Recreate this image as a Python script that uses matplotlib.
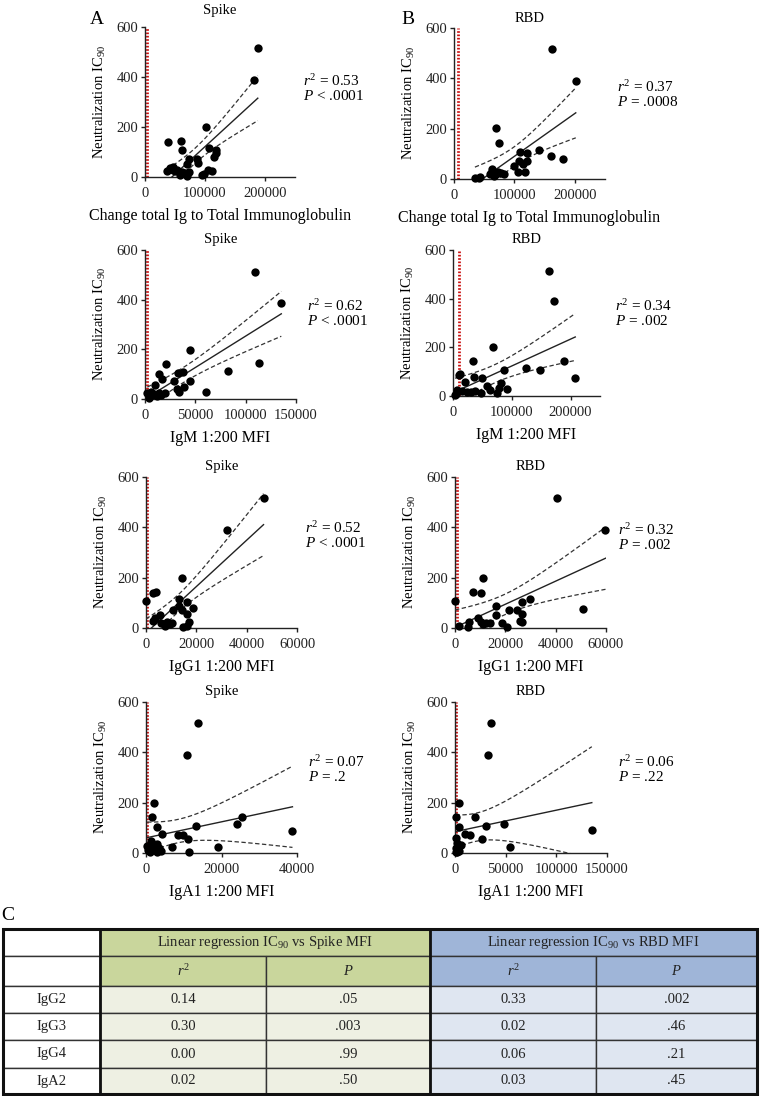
import numpy as np
import matplotlib
matplotlib.use('Agg')
import matplotlib.pyplot as plt
from matplotlib.patches import Rectangle

plt.rcParams['font.family'] = ['Liberation Serif', 'DejaVu Serif']
plt.rcParams['mathtext.fontset'] = 'custom'
plt.rcParams['mathtext.rm'] = 'Liberation Serif'
plt.rcParams['mathtext.it'] = 'Liberation Serif:italic'

# ---- scatter data ----
# Total Ig
spike_tot_x = [188000, 182000, 101600, 38500, 60000, 61500, 106600, 119000, 117600,
               115000, 72500, 70000, 86000, 89000, 37000, 42000, 46500, 54000,
               61500, 59000, 67000, 70000, 74000, 94500, 99000, 105500, 111000,
               50500, 46000]
spike_tot_y = [515, 389, 201, 142, 145, 107, 117, 110, 97, 79, 72, 52, 72, 56, 23,
               36, 40, 30, 19, 9, 16, 3, 19, 9, 13, 28, 25, 23, 30]
rbd_tot_x = [161500, 201600, 69800, 75300, 140000, 160400, 180800, 109300, 121400,
             98900, 107100, 113700, 120900, 105500, 118100, 34600, 42300, 40700,
             62600, 61500, 67000, 72500, 78000, 83500, 69800, 58800]
rbd_tot_y = [516, 390, 202, 145, 115, 92, 78, 106, 105, 53, 72, 60, 73, 27, 29, 5,
             9, 3, 38, 23, 13, 29, 25, 21, 20, 20]
# IgM
spike_igm_x = [109500, 135400, 113500, 82000, 61000, 44500, 20600, 44800, 38800,
               38200, 33200, 28900, 31500, 33900, 14000, 16600, 10000, 19600, 5600,
               9000, 4000, 12300, 16300, 2300, 5000, 14000]
spike_igm_y = [513, 387, 143, 113, 27, 199, 140, 71, 49, 107, 104, 71, 40, 29, 100,
               80, 57, 24, 27, 20, 4, 13, 16, 24, 13, 23]
rbd_igm_x = [162700, 172300, 188100, 207900, 148600, 124300, 87000, 67200, 33300,
             36200, 49700, 11900, 10200, 20300, 57100, 63300, 80800, 78000, 91000,
             75100, 46900, 36700, 24300, 14700, 7300, 3400, 5600, 31100]
rbd_igm_y = [515, 390, 144, 73, 108, 117, 106, 202, 143, 78, 73, 92, 88, 56, 40, 26,
             54, 33, 30, 12, 12, 21, 16, 22, 23, 3, 10, 15]
# IgG1
spike_igg1_x = [46700, 32100, 14500, 0, 2600, 4100, 13000, 16200, 13200, 18500,
                10700, 14300, 16200, 5700, 3700, 2600, 6000, 8300, 10300, 7700,
                16900, 16200, 14900, 9600]
spike_igg1_y = [516, 388, 200, 107, 140, 144, 115, 105, 87, 78, 72, 72, 54, 52, 41,
                29, 21, 25, 19, 8, 25, 8, 5, 16]
rbd_igg1_x = [40500, 59800, 50900, 11300, 7300, 10400, 0, 29900, 26600, 26800,
              16300, 21600, 24800, 16300, 25900, 26600, 9300, 10200, 12400, 13900,
              5600, 1600, 5100, 18600, 20600, 11000]
rbd_igg1_y = [516, 389, 77, 200, 144, 141, 108, 116, 105, 56, 89, 72, 72, 52, 29, 25,
              41, 25, 19, 21, 25, 9, 5, 21, 5, 15]
# IgA1
spike_iga1_x = [13700, 10800, 2100, 1500, 2800, 4300, 8400, 9900, 11000, 13200,
                24000, 25300, 38800, 19200, 6800, 1200, 300, 2800, 1900, 3500, 800,
                11500, 1000, 2500, 4000, 500, 3000]
spike_iga1_y = [518, 391, 200, 142, 104, 76, 71, 71, 55, 107, 115, 143, 88, 22, 24,
                48, 28, 35, 24, 19, 19, 3, 5, 10, 8, 12, 2]
rbd_iga1_x = [35500, 32300, 4200, 700, 4200, 19700, 30300, 48300, 9900, 14800,
              27000, 54300, 135000, 1000, 1500, 2500, 3000, 500, 4000, 6000, 2000,
              1000]
rbd_iga1_y = [518, 391, 200, 142, 104, 143, 107, 115, 76, 71, 55, 22, 91, 60, 40,
              25, 12, 20, 8, 30, 5, 2]

# threshold (red dotted) per panel
thresholds = [3800, 6600, 1700, 10000, 500, 700, 300, 1000]

panel_titles = ['Spike', 'RBD'] * 4
x_labels = ['Change total Ig to Total Immunoglobulin'] * 2 + ['IgM 1:200 MFI'] * 2 + \
           ['IgG1 1:200 MFI'] * 2 + ['IgA1 1:200 MFI'] * 2
r2_labels = ['0.53', '0.37', '0.62', '0.34', '0.52', '0.32', '0.07', '0.06']
p_labels = ['< .0001', '= .0008', '< .0001', '= .002', '< .0001', '= .002', '= .2', '= .22']
x_limits = [250000, 250000, 150000, 250000, 60000, 60000, 40000, 150000]
x_ticks = [[0, 100000, 200000], [0, 100000, 200000], [0, 50000, 100000, 150000],
           [0, 100000, 200000], [0, 20000, 40000, 60000], [0, 20000, 40000, 60000],
           [0, 20000, 40000], [0, 50000, 100000, 150000]]

# table data
table_rows = ['IgG2', 'IgG3', 'IgG4', 'IgA2']
spike_r2 = ['0.14', '0.30', '0.00', '0.02']
spike_p = ['.05', '.003', '.99', '.50']
rbd_r2 = ['0.33', '0.02', '0.06', '0.03']
rbd_p = ['.002', '.46', '.21', '.45']

W, H = 760, 1096
fig = plt.figure(figsize=(W / 100, H / 100), dpi=100)
fig.patch.set_facecolor('white')


def px_axes(x0, y0, x1, y1):
    return fig.add_axes([x0 / W, 1 - y1 / H, (x1 - x0) / W, (y1 - y0) / H])


def fig_text(px, py, s, **kw):
    fig.text(px / W, 1 - py / H, s, **kw)


def regression(ax, x, y):
    x = np.asarray(x, float)
    y = np.asarray(y, float)
    n = len(x)
    b, a = np.polyfit(x, y, 1)
    xm = x.mean()
    resid = y - (a + b * x)
    s = np.sqrt(np.sum(resid ** 2) / (n - 2))
    sxx = np.sum((x - xm) ** 2)
    xx = np.linspace(x.min(), x.max(), 200)
    yy = a + b * xx
    se = s * np.sqrt(1.0 / n + (xx - xm) ** 2 / sxx)
    t = 2.05
    ax.plot(xx, yy, color='#222222', lw=1.0, zorder=3)
    ax.plot(xx, yy + t * se, color='#333333', lw=0.9, ls=(0, (3.5, 2)), zorder=3)
    ax.plot(xx, yy - t * se, color='#333333', lw=0.9, ls=(0, (3.5, 2)), zorder=3)


datasets = [(spike_tot_x, spike_tot_y), (rbd_tot_x, rbd_tot_y),
            (spike_igm_x, spike_igm_y), (rbd_igm_x, rbd_igm_y),
            (spike_igg1_x, spike_igg1_y), (rbd_igg1_x, rbd_igg1_y),
            (spike_iga1_x, spike_iga1_y), (rbd_iga1_x, rbd_iga1_y)]

# pixel boxes (x0, y0, x1, y1) for each panel
boxes = [(145, 27, 295, 177), (454, 28, 605, 179),
         (145, 250, 296, 399), (453, 250, 600, 396),
         (146, 477, 297, 628), (455, 477, 606, 628),
         (146, 702, 297, 853), (455, 702, 607, 853)]
title_pads = [9.5, 4.5, 5, 5, 5, 5, 5, 5]
stat_pos = [(303, 81), (617, 87), (307, 306), (615, 306),
            (305, 528), (618, 530), (308, 762), (618, 762)]

for i, (x, y) in enumerate(datasets):
    ax = px_axes(*boxes[i])
    ax.set_xlim(0, x_limits[i])
    ax.set_ylim(0, 600)
    ax.set_xticks(x_ticks[i])
    ax.set_xticklabels([str(v) for v in x_ticks[i]])
    ax.set_yticks([0, 200, 400, 600])
    for side in ['top', 'right']:
        ax.spines[side].set_visible(False)
    for side in ['left', 'bottom']:
        ax.spines[side].set_linewidth(1.0)
        ax.spines[side].set_color('#222222')
    ax.tick_params(axis='both', direction='out', length=3, width=1.0,
                   labelsize=10.5, colors='#222222')
    ax.tick_params(axis='y', pad=2)
    ax.tick_params(axis='x', pad=4)
    ax.axvline(thresholds[i], color='#cc1111', lw=2.0, ls=(0, (0.6, 0.6)), zorder=2)
    regression(ax, x, y)
    ax.scatter(x, y, s=36, color='black', zorder=4, clip_on=False, linewidths=0)
    ax.set_title(panel_titles[i], fontsize=10.5, pad=title_pads[i])
    ax.set_xlabel(x_labels[i], fontsize=11.5, labelpad=6)
    ax.set_ylabel('Neutralization IC$_{90}$', fontsize=10.5, labelpad=6)
    sx, sy = stat_pos[i]
    fig_text(sx, sy, '$r^2$ = ' + r2_labels[i], fontsize=11, va='center')
    fig_text(sx, sy + 15, '$P$ ' + p_labels[i], fontsize=11, va='center')

fig_text(97, 20, 'A', fontsize=14, ha='center', va='center')
fig_text(408, 20, 'B', fontsize=14, ha='center', va='center')
fig_text(8, 915, 'C', fontsize=14, ha='center', va='center')

# ---- table C ----
tax = fig.add_axes([0, 0, 1, 1])
tax.set_xlim(0, W)
tax.set_ylim(H, 0)
tax.axis('off')

col_edges = [3, 100, 266, 430, 596, 757]
row_edges = [929, 956, 986, 1013, 1040, 1068, 1094]
green_head = '#c9d69c'
green_cell = '#eef0e3'
blue_head = '#9fb5d8'
blue_cell = '#dfe6f1'


def cell(c0, c1, r0, r1, color):
    tax.add_patch(Rectangle((col_edges[c0], row_edges[r0]),
                            col_edges[c1] - col_edges[c0],
                            row_edges[r1] - row_edges[r0],
                            facecolor=color, edgecolor='#333333', lw=1.0))


def ctext(c0, c1, r, s):
    tax.text((col_edges[c0] + col_edges[c1]) / 2, (row_edges[r] + row_edges[r + 1]) / 2,
             s, ha='center', va='center', fontsize=10.5, color='#222222')


cell(0, 1, 0, 1, 'white')
cell(0, 1, 1, 2, 'white')
cell(1, 3, 0, 1, green_head)
cell(3, 5, 0, 1, blue_head)
for c in range(1, 5):
    cell(c, c + 1, 1, 2, green_head if c < 3 else blue_head)
for r in range(4):
    cell(0, 1, r + 2, r + 3, 'white')
    for c in range(1, 5):
        cell(c, c + 1, r + 2, r + 3, green_cell if c < 3 else blue_cell)

ctext(1, 3, 0, 'Linear regression IC$_{90}$ vs Spike MFI')
ctext(3, 5, 0, 'Linear regression IC$_{90}$ vs RBD MFI')
ctext(1, 2, 1, '$r^2$')
ctext(2, 3, 1, '$P$')
ctext(3, 4, 1, '$r^2$')
ctext(4, 5, 1, '$P$')
for r in range(4):
    ctext(0, 1, r + 2, table_rows[r])
    ctext(1, 2, r + 2, spike_r2[r])
    ctext(2, 3, r + 2, spike_p[r])
    ctext(3, 4, r + 2, rbd_r2[r])
    ctext(4, 5, r + 2, rbd_p[r])

# thick outer frame and separators
tax.add_patch(Rectangle((col_edges[0], row_edges[0]), col_edges[-1] - col_edges[0],
                        row_edges[-1] - row_edges[0], fill=False,
                        edgecolor='#111111', lw=2.2))
tax.plot([col_edges[3], col_edges[3]], [row_edges[0], row_edges[-1]],
         color='#111111', lw=2.0)
tax.plot([col_edges[1], col_edges[1]], [row_edges[0], row_edges[-1]],
         color='#111111', lw=2.0)

fig.savefig('out.png', dpi=100, facecolor='white')
